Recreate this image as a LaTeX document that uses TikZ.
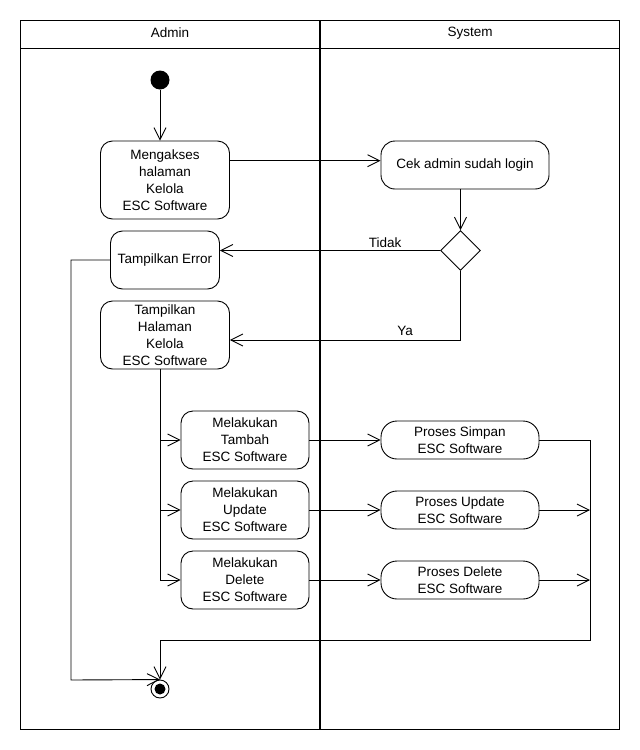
\documentclass[tikz,border=0pt]{standalone}
\usepackage{fontspec}
\setmainfont{Liberation Sans}
\usetikzlibrary{arrows.meta,shapes.geometric,calc}
\begin{document}
\begin{tikzpicture}[x=1pt,y=-1pt,
  line width=0.9pt,
  every node/.style={font=\fontsize{13.5}{17}\selectfont},
  action/.style={draw, rounded corners=12pt, align=center, inner sep=0pt},
  proc/.style={draw, rounded corners=16pt, align=center, inner sep=0pt,
    minimum width=158pt, minimum height=38pt},
  decision/.style={draw, diamond, inner sep=0pt, minimum width=40pt, minimum height=40pt},
  initial/.style={circle, fill=black, inner sep=0pt, minimum size=19pt},
  final/.style={circle, draw, inner sep=0pt, minimum size=18pt,
    path picture={\fill (path picture bounding box.center) circle (5.5pt);}},
  arr/.style={-{Straight Barb[length=12pt,width=12pt,line width=0.9pt]}},
  lbl/.style={inner sep=0pt}]
\useasboundingbox (0,0) rectangle (640,750);

% swimlanes
\draw (20,20) rectangle (619.5,729);
\draw (20,48) -- (619.5,48);
\draw[line width=2.4pt] (320,20) -- (320,729);
\node[lbl] (laneA) at (170,33) {Admin};
\node[lbl] (laneS) at (470,33) {System};

% nodes
\node[initial] (start) at (160,80) {};
\node[action, minimum width=129pt, minimum height=78pt] (meng) at (165,180)
  {Mengakses\\halaman\\Kelola\\ESC Software};
\node[action, rounded corners=14pt, minimum width=168pt, minimum height=48pt] (cek) at (465,165)
  {Cek admin sudah login};
\node[decision] (dec) at (460.5,250.5) {};
\node[action, minimum width=109pt, minimum height=58pt] (err) at (165,260)
  {Tampilkan Error};
\node[action, minimum width=129pt, minimum height=68pt] (hal) at (165,335)
  {Tampilkan\\Halaman\\Kelola\\ESC Software};
\node[action, minimum width=128pt, minimum height=58pt] (tam) at (245,440)
  {Melakukan\\Tambah\\ESC Software};
\node[action, minimum width=128pt, minimum height=58pt] (upd) at (245,510)
  {Melakukan\\Update\\ESC Software};
\node[action, minimum width=128pt, minimum height=58pt] (del) at (245,580)
  {Melakukan\\Delete\\ESC Software};
\node[proc] (ps) at (460,440) {Proses Simpan\\ESC Software};
\node[proc] (pu) at (460,510) {Proses Update\\ESC Software};
\node[proc] (pd) at (460,580) {Proses Delete\\ESC Software};
\node[final] (end) at (160,689) {};

% bend points
\coordinate (cekin) at ([yshift=4.3pt]cek.west);
\coordinate (halin) at ([yshift=-5pt]hal.east);
\coordinate (lx) at (71,680);
\coordinate (rj) at (590,640);

% connectors
\draw[arr] (start) -- (meng.north -| start);
\draw[arr] (meng.east |- cekin) -- (cekin);
\draw[arr] (dec.north |- cek.south) -- (dec.north);
\draw[arr] (dec.west) -- (dec.west -| err.east)
  node[lbl, pos=0.25, yshift=8pt] {Tidak};
\draw[arr] (dec.south) |- (halin)
  node[lbl, pos=0.62, yshift=9pt] {Ya};
\draw[arr] (err.west) -| (lx) -- (end.north);
\draw[arr] (start |- hal.south) |- (tam.west);
\draw[arr] (start |- hal.south) |- (upd.west);
\draw[arr] (start |- hal.south) |- (del.west);
\draw[arr] (tam.east) -- (ps.west);
\draw[arr] (upd.east) -- (pu.west);
\draw[arr] (del.east) -- (pd.west);
\draw[arr] (ps.east) -| (rj) -| (end.north);
\draw[arr] (pu.east) -- (pu.east -| rj);
\draw[arr] (pd.east) -- (pd.east -| rj);
\end{tikzpicture}
\end{document}
